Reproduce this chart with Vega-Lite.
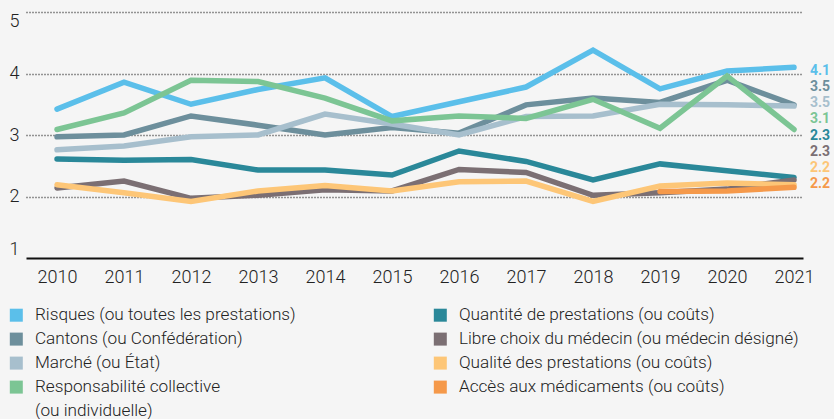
{
  "$schema": "https://vega.github.io/schema/vega-lite/v6.json",
  "width": 777,
  "height": 246,
  "autosize": {"type": "none"},
  "padding": {"left": 26, "top": 12, "right": 31, "bottom": 161},
  "background": "#f5f5f5",
  "config": {"view": {"stroke": null}, "font": "Roboto"},
  "datasets": {
    "series": [
      {"year": 2010, "series": "Risques (ou toutes les prestations)", "value": 3.42},
      {"year": 2011, "series": "Risques (ou toutes les prestations)", "value": 3.86},
      {"year": 2012, "series": "Risques (ou toutes les prestations)", "value": 3.50},
      {"year": 2013, "series": "Risques (ou toutes les prestations)", "value": 3.74},
      {"year": 2014, "series": "Risques (ou toutes les prestations)", "value": 3.93},
      {"year": 2015, "series": "Risques (ou toutes les prestations)", "value": 3.30},
      {"year": 2016, "series": "Risques (ou toutes les prestations)", "value": 3.54},
      {"year": 2017, "series": "Risques (ou toutes les prestations)", "value": 3.78},
      {"year": 2018, "series": "Risques (ou toutes les prestations)", "value": 4.38},
      {"year": 2019, "series": "Risques (ou toutes les prestations)", "value": 3.75},
      {"year": 2020, "series": "Risques (ou toutes les prestations)", "value": 4.04},
      {"year": 2021, "series": "Risques (ou toutes les prestations)", "value": 4.10},
      {"year": 2010, "series": "Cantons (ou Confédération)", "value": 2.97},
      {"year": 2011, "series": "Cantons (ou Confédération)", "value": 3.00},
      {"year": 2012, "series": "Cantons (ou Confédération)", "value": 3.31},
      {"year": 2013, "series": "Cantons (ou Confédération)", "value": 3.16},
      {"year": 2014, "series": "Cantons (ou Confédération)", "value": 3.00},
      {"year": 2015, "series": "Cantons (ou Confédération)", "value": 3.12},
      {"year": 2016, "series": "Cantons (ou Confédération)", "value": 3.03},
      {"year": 2017, "series": "Cantons (ou Confédération)", "value": 3.49},
      {"year": 2018, "series": "Cantons (ou Confédération)", "value": 3.60},
      {"year": 2019, "series": "Cantons (ou Confédération)", "value": 3.53},
      {"year": 2020, "series": "Cantons (ou Confédération)", "value": 3.89},
      {"year": 2021, "series": "Cantons (ou Confédération)", "value": 3.49},
      {"year": 2010, "series": "Marché (ou État)", "value": 2.76},
      {"year": 2011, "series": "Marché (ou État)", "value": 2.82},
      {"year": 2012, "series": "Marché (ou État)", "value": 2.97},
      {"year": 2013, "series": "Marché (ou État)", "value": 3.00},
      {"year": 2014, "series": "Marché (ou État)", "value": 3.34},
      {"year": 2015, "series": "Marché (ou État)", "value": 3.18},
      {"year": 2016, "series": "Marché (ou État)", "value": 3.00},
      {"year": 2017, "series": "Marché (ou État)", "value": 3.30},
      {"year": 2018, "series": "Marché (ou État)", "value": 3.31},
      {"year": 2019, "series": "Marché (ou État)", "value": 3.50},
      {"year": 2020, "series": "Marché (ou État)", "value": 3.49},
      {"year": 2021, "series": "Marché (ou État)", "value": 3.47},
      {"year": 2010, "series": "Responsabilité collective (ou individuelle)", "value": 3.09},
      {"year": 2011, "series": "Responsabilité collective (ou individuelle)", "value": 3.36},
      {"year": 2012, "series": "Responsabilité collective (ou individuelle)", "value": 3.89},
      {"year": 2013, "series": "Responsabilité collective (ou individuelle)", "value": 3.87},
      {"year": 2014, "series": "Responsabilité collective (ou individuelle)", "value": 3.60},
      {"year": 2015, "series": "Responsabilité collective (ou individuelle)", "value": 3.23},
      {"year": 2016, "series": "Responsabilité collective (ou individuelle)", "value": 3.31},
      {"year": 2017, "series": "Responsabilité collective (ou individuelle)", "value": 3.27},
      {"year": 2018, "series": "Responsabilité collective (ou individuelle)", "value": 3.58},
      {"year": 2019, "series": "Responsabilité collective (ou individuelle)", "value": 3.11},
      {"year": 2020, "series": "Responsabilité collective (ou individuelle)", "value": 3.96},
      {"year": 2021, "series": "Responsabilité collective (ou individuelle)", "value": 3.09},
      {"year": 2010, "series": "Quantité de prestations (ou coûts)", "value": 2.61},
      {"year": 2011, "series": "Quantité de prestations (ou coûts)", "value": 2.59},
      {"year": 2012, "series": "Quantité de prestations (ou coûts)", "value": 2.60},
      {"year": 2013, "series": "Quantité de prestations (ou coûts)", "value": 2.43},
      {"year": 2014, "series": "Quantité de prestations (ou coûts)", "value": 2.43},
      {"year": 2015, "series": "Quantité de prestations (ou coûts)", "value": 2.35},
      {"year": 2016, "series": "Quantité de prestations (ou coûts)", "value": 2.74},
      {"year": 2017, "series": "Quantité de prestations (ou coûts)", "value": 2.57},
      {"year": 2018, "series": "Quantité de prestations (ou coûts)", "value": 2.27},
      {"year": 2019, "series": "Quantité de prestations (ou coûts)", "value": 2.53},
      {"year": 2020, "series": "Quantité de prestations (ou coûts)", "value": 2.42},
      {"year": 2021, "series": "Quantité de prestations (ou coûts)", "value": 2.31},
      {"year": 2010, "series": "Libre choix du médecin (ou médecin désigné)", "value": 2.14},
      {"year": 2011, "series": "Libre choix du médecin (ou médecin désigné)", "value": 2.25},
      {"year": 2012, "series": "Libre choix du médecin (ou médecin désigné)", "value": 1.97},
      {"year": 2013, "series": "Libre choix du médecin (ou médecin désigné)", "value": 2.02},
      {"year": 2014, "series": "Libre choix du médecin (ou médecin désigné)", "value": 2.11},
      {"year": 2015, "series": "Libre choix du médecin (ou médecin désigné)", "value": 2.09},
      {"year": 2016, "series": "Libre choix du médecin (ou médecin désigné)", "value": 2.44},
      {"year": 2017, "series": "Libre choix du médecin (ou médecin désigné)", "value": 2.39},
      {"year": 2018, "series": "Libre choix du médecin (ou médecin désigné)", "value": 2.02},
      {"year": 2019, "series": "Libre choix du médecin (ou médecin désigné)", "value": 2.06},
      {"year": 2020, "series": "Libre choix du médecin (ou médecin désigné)", "value": 2.12},
      {"year": 2021, "series": "Libre choix du médecin (ou médecin désigné)", "value": 2.27},
      {"year": 2010, "series": "Qualité des prestations (ou coûts)", "value": 2.19},
      {"year": 2011, "series": "Qualité des prestations (ou coûts)", "value": 2.06},
      {"year": 2012, "series": "Qualité des prestations (ou coûts)", "value": 1.92},
      {"year": 2013, "series": "Qualité des prestations (ou coûts)", "value": 2.09},
      {"year": 2014, "series": "Qualité des prestations (ou coûts)", "value": 2.18},
      {"year": 2015, "series": "Qualité des prestations (ou coûts)", "value": 2.09},
      {"year": 2016, "series": "Qualité des prestations (ou coûts)", "value": 2.24},
      {"year": 2017, "series": "Qualité des prestations (ou coûts)", "value": 2.25},
      {"year": 2018, "series": "Qualité des prestations (ou coûts)", "value": 1.92},
      {"year": 2019, "series": "Qualité des prestations (ou coûts)", "value": 2.17},
      {"year": 2020, "series": "Qualité des prestations (ou coûts)", "value": 2.22},
      {"year": 2021, "series": "Qualité des prestations (ou coûts)", "value": 2.19},
      {"year": 2019, "series": "Accès aux médicaments (ou coûts)", "value": 2.08},
      {"year": 2020, "series": "Accès aux médicaments (ou coûts)", "value": 2.09},
      {"year": 2021, "series": "Accès aux médicaments (ou coûts)", "value": 2.15}
    ],
    "ends": [
      {"year": 2021, "series": "Risques (ou toutes les prestations)", "label": "4.1"},
      {"year": 2021, "series": "Cantons (ou Confédération)", "label": "3.5"},
      {"year": 2021, "series": "Marché (ou État)", "label": "3.5"},
      {"year": 2021, "series": "Responsabilité collective (ou individuelle)", "label": "3.1"},
      {"year": 2021, "series": "Quantité de prestations (ou coûts)", "label": "2.3"},
      {"year": 2021, "series": "Libre choix du médecin (ou médecin désigné)", "label": "2.3"},
      {"year": 2021, "series": "Qualité des prestations (ou coûts)", "label": "2.2"},
      {"year": 2021, "series": "Accès aux médicaments (ou coûts)", "label": "2.2"}
    ]
  },
  "layer": [
    {
      "data": {"name": "series"},
      "mark": {"type": "line", "strokeWidth": 5.5, "strokeCap": "round"},
      "encoding": {
        "x": {
          "field": "year", "type": "quantitative",
          "scale": {"domain": [2009.537, 2021.134], "nice": false, "zero": false},
          "axis": {
            "values": [2010, 2011, 2012, 2013, 2014, 2015, 2016, 2017, 2018, 2019, 2020, 2021],
            "format": "d", "title": null, "domain": false, "ticks": false, "grid": false,
            "labelFontSize": 18, "labelColor": "#222222", "labelPadding": 10, "labelFlush": false,
            "labelFontWeight": 300
          }
        },
        "y": {
          "field": "value", "type": "quantitative",
          "scale": {"domain": [1, 5], "nice": false, "zero": false},
          "axis": {
            "values": [1, 2, 3, 4, 5], "title": null, "domain": false, "ticks": false,
            "labelFontSize": 18, "labelColor": "#222222", "labelPadding": 7, "labelFlush": true,
            "labelFontWeight": 300,
            "grid": true,
            "gridColor": {"condition": {"test": "datum.value === 1", "value": "#111111"}, "value": "#333333"},
            "gridDash": {"condition": {"test": "datum.value === 1", "value": []}, "value": [1, 2]},
            "gridWidth": {"condition": {"test": "datum.value === 1", "value": 2}, "value": 1.5}
          }
        },
        "color": {
          "field": "series", "type": "nominal",
          "scale": {
            "domain": [
              "Risques (ou toutes les prestations)",
              "Cantons (ou Confédération)",
              "Marché (ou État)",
              "Responsabilité collective (ou individuelle)",
              "Quantité de prestations (ou coûts)",
              "Libre choix du médecin (ou médecin désigné)",
              "Qualité des prestations (ou coûts)",
              "Accès aux médicaments (ou coûts)"
            ],
            "range": ["#5bbfea", "#6d8f9c", "#a7bfcd", "#7cc594", "#2a8899", "#7b6f73", "#fdc677", "#f5994a"]
          },
          "legend": {
            "title": null, "orient": "none", "legendX": -18.3, "legendY": 294.5,
            "columns": 2, "padding": 0,
            "symbolType": "square", "symbolSize": 169, "symbolStrokeWidth": 0, "symbolOpacity": 1,
            "labelFontSize": 17.2, "labelColor": "#222222", "labelOffset": 10, "labelFontWeight": 300,
            "rowPadding": 6, "columnPadding": 136, "labelLimit": 400,
            "labelExpr": "datum.label == 'Responsabilité collective (ou individuelle)' ? ['Responsabilité collective', '(ou individuelle)'] : datum.label",
            "encode": {
              "symbols": {"update": {"fill": {"scale": "color", "field": "value"}, "strokeWidth": {"value": 0}}},
              "labels": {"update": {"lineHeight": {"value": 24}}}
            }
          }
        }
      }
    },
    {
      "data": {"name": "ends"},
      "mark": {"type": "text", "align": "left", "dx": 16, "fontWeight": "bold", "fontSize": 14},
      "encoding": {
        "x": {"field": "year", "type": "quantitative"},
        "y": {
          "field": "series", "type": "nominal",
          "scale": {
            "type": "point",
            "domain": [
              "Risques (ou toutes les prestations)",
              "Cantons (ou Confédération)",
              "Marché (ou État)",
              "Responsabilité collective (ou individuelle)",
              "Quantité de prestations (ou coûts)",
              "Libre choix du médecin (ou médecin désigné)",
              "Qualité des prestations (ou coûts)",
              "Accès aux médicaments (ou coûts)"
            ],
            "range": [51, 180]
          },
          "axis": null
        },
        "text": {"field": "label"},
        "color": {"field": "series", "type": "nominal"}
      }
    }
  ],
  "resolve": {"scale": {"y": "independent"}}
}
